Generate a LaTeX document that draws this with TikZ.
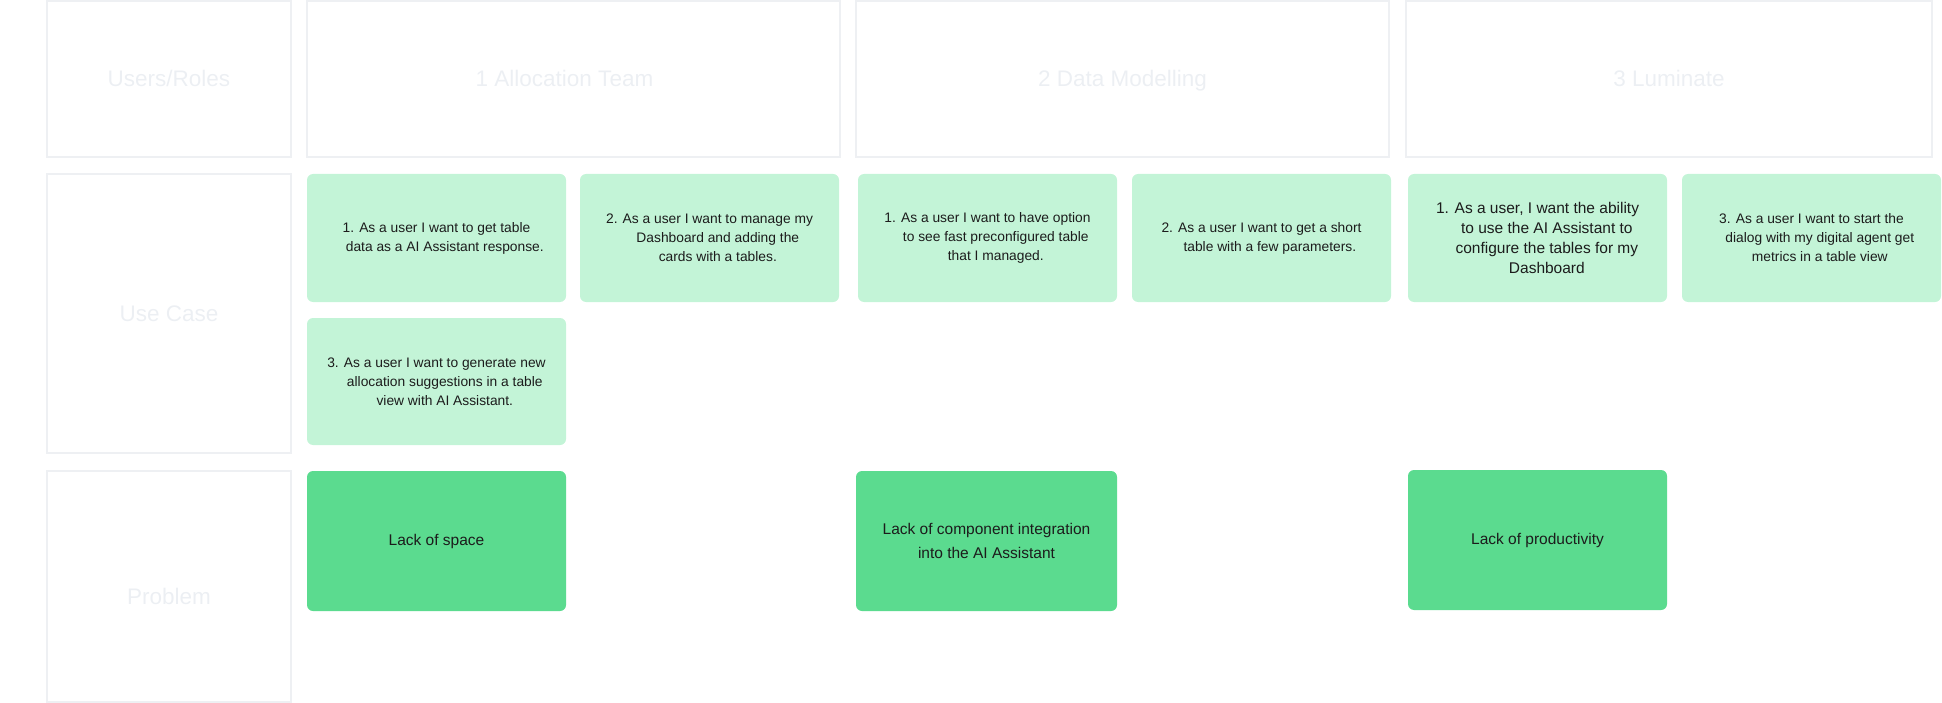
\documentclass[tikz,border=0pt]{standalone}
\usepackage{fontspec}
\setmainfont{Liberation Sans}
\definecolor{laneline}{HTML}{EEF0F3}
\definecolor{lanefont}{HTML}{ECEFF3}
\definecolor{storyfill}{HTML}{C3F4D7}
\definecolor{issuefill}{HTML}{5BDB8F}
\definecolor{ink}{HTML}{1C1C1C}
\begin{document}
\begin{tikzpicture}[
            x=1pt, y=-1pt,
            lane/.style={draw=laneline, line width=1.2pt, anchor=north west,
                    inner sep=0pt, outer sep=0pt, text=lanefont,
                    text height=16pt, text depth=0pt,
                    font=\fontsize{22.5}{27}\selectfont},
            story/.style={fill=storyfill, rounded corners=6pt, anchor=north west,
                    inner sep=0pt, outer sep=0pt, minimum width=259pt,
                    minimum height=128pt, text=ink, align=center,
                    font=\fontsize{13.8}{19}\selectfont},
            issue/.style={story, fill=issuefill, minimum height=140pt,
                    font=\fontsize{15.5}{24}\selectfont}
        ]
        \useasboundingbox (0,0) rectangle (1942,703);

        % lanes
        \node[lane, minimum width=244pt, minimum height=156pt] (roles) at (47,1) {Users/Roles};
        \node[lane, minimum width=244pt, minimum height=279pt] (usecase) at (47,174) {Use Case};
        \node[lane, minimum width=244pt, minimum height=231pt] (problem) at (47,471) {};
        \node[text=lanefont, font=\fontsize{22.5}{27}\selectfont, text height=16pt, text depth=0pt] (problemtxt) at ([yshift=-10pt]problem.center) {Problem};

        \node[lane, minimum width=533pt, minimum height=156pt] (team1) at (307,1) {1 Allocation Team\kern18pt};
        \node[lane, minimum width=533pt, minimum height=156pt] (team2) at (856,1) {2 Data Modelling};
        \node[lane, minimum width=526pt, minimum height=156pt] (team3) at (1406,1) {3 Luminate};

        % use cases
        \node[story] (A1) at (307,174) {1. As a user I want to get table\\\hphantom{1. }data as a AI Assistant response.};
        \node[story] (A2) at (580,174) {2. As a user I want to manage my\\\hphantom{2. }Dashboard and adding the\\\hphantom{2. }cards with a tables.};
        \node[story, minimum height=127pt] (A3) at (307,318) {3. As a user I want to generate new\\\hphantom{3. }allocation suggestions in a table\\\hphantom{3. }view with AI Assistant.};

        \node[story] (B1) at (858,174) {1. As a user I want to have option\\\hphantom{1. }to see fast preconfigured table\\\hphantom{1. }that I managed.};
        \node[story] (B2) at (1132,174) {2. As a user I want to get a short\\\hphantom{2. }table with a few parameters.};

        \node[story, font=\fontsize{15.5}{20}\selectfont] (C1) at (1408,174) {1. As a user, I want the ability\\\hphantom{1. }to use the AI Assistant to\\\hphantom{1. }configure the tables for my\\\hphantom{1. }Dashboard};
        \node[story] (C3) at (1682,174) {3. As a user I want to start the\\\hphantom{3. }dialog with my digital agent get\\\hphantom{3. }metrics in a table view};

        % problems
        \node[issue] (P1) at (307,471) {Lack of space};
        \node[issue, minimum width=261pt] (P2) at (856,471) {Lack of component integration\\into the AI Assistant};
        \node[issue] (P3) at (1408,470) {Lack of productivity};
    \end{tikzpicture}
\end{document}
